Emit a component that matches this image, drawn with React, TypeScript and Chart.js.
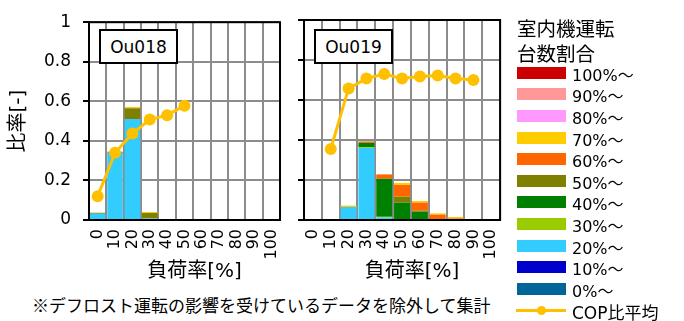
import React, { useEffect, useRef } from "react";
import { Chart, registerables } from "chart.js";
Chart.register(...registerables);

const FONT = "'DejaVu Sans', 'Noto Sans CJK JP', sans-serif";
const CJK = "'Noto Sans CJK JP', 'DejaVu Sans', sans-serif";

// load-rate categories [%]
const loadLabels = ["0", "10", "20", "30", "40", "50", "60", "70", "80", "90", "100"];

// operating indoor-unit ratio bands (top of legend first)
const bandLabels = ["100%～", "90%～", "80%～", "70%～", "60%～", "50%～", "40%～", "30%～", "20%～", "10%～", "0%～"];
const bandColors = ["#CC0000", "#FF9999", "#FF99FF", "#FFCC00", "#FF6600", "#808000", "#008000", "#99CC00", "#33CCFF", "#0000CC", "#006699"];

const none = [0, 0, 0, 0, 0, 0, 0, 0, 0, 0, 0];

// Ou018 band shares
const ou018_20 = [0.032, 0.34, 0.51, 0.008, 0, 0, 0, 0, 0, 0, 0];
const ou018_50 = [0.005, 0.005, 0.055, 0.028, 0, 0, 0, 0, 0, 0, 0];
const ou018_70 = [0, 0, 0.006, 0.005, 0, 0, 0, 0, 0, 0, 0];
const ou018_cop = [0.12, 0.34, 0.437, 0.508, 0.53, 0.578, null, null, null, null, null];

// Ou019 band shares
const ou019_20 = [0, 0, 0.065, 0.36, 0.012, 0, 0, 0, 0, 0, 0];
const ou019_30 = [0, 0, 0, 0.004, 0.004, 0, 0, 0, 0, 0, 0];
const ou019_40 = [0, 0, 0, 0.022, 0.19, 0.087, 0.042, 0.005, 0, 0, 0];
const ou019_50 = [0, 0, 0, 0, 0, 0.03, 0.004, 0, 0, 0, 0];
const ou019_60 = [0, 0, 0, 0.007, 0.022, 0.058, 0.041, 0.022, 0.008, 0, 0];
const ou019_70 = [0, 0, 0.007, 0, 0, 0.01, 0.008, 0.006, 0.007, 0.005, 0];
const ou019_cop = [null, 0.355, 0.658, 0.707, 0.73, 0.707, 0.717, 0.723, 0.707, 0.7, null];

// per-band series, same order as bandLabels (100% ... 0%)
const ou018Bands = [none, none, none, ou018_70, none, ou018_50, none, none, ou018_20, none, none];
const ou019Bands = [none, none, none, ou019_70, ou019_60, ou019_50, ou019_40, ou019_30, ou019_20, none, none];

const yTitle = "比率[-]";
const xTitle = "負荷率[%]";
const copLabel = "COP比平均";
const legendTitle = ["室内機運転", "台数割合"];
const note = "※デフロスト運転の影響を受けているデータを除外して集計";

const frame = {
  id: "frame",
  afterDatasetsDraw(chart: any) {
    const { ctx, chartArea } = chart;
    const { left, top, right, bottom } = chartArea;
    ctx.save();
    ctx.strokeStyle = "#000";
    ctx.lineWidth = 2;
    ctx.strokeRect(left, top, right - left, bottom - top);
    ctx.restore();
  },
};

function makeConfig(bands: number[][], cop: (number | null)[], showY: boolean, rightPad: number): any {
  const barSets = [];
  for (let i = bands.length - 1; i >= 0; i--) {
    barSets.push({
      type: "bar",
      label: bandLabels[i],
      data: bands[i],
      backgroundColor: bandColors[i],
      borderWidth: 0,
      barPercentage: 0.9,
      categoryPercentage: 1,
      stack: "bands",
      order: 1,
    });
  }
  return {
    type: "bar",
    data: {
      labels: loadLabels,
      datasets: [
        {
          type: "line",
          label: copLabel,
          data: cop,
          borderColor: "#FFC000",
          backgroundColor: "#FFC000",
          borderWidth: 3,
          pointRadius: 6,
          pointBorderWidth: 0,
          pointBackgroundColor: "#FFC000",
          stack: "cop",
          order: 0,
          spanGaps: false,
        },
        ...barSets,
      ],
    },
    options: {
      animation: false,
      responsive: false,
      maintainAspectRatio: false,
      events: [],
      layout: { padding: { top: 20, right: rightPad, left: 0, bottom: 0 } },
      plugins: { legend: { display: false }, tooltip: { enabled: false } },
      scales: {
        x: {
          stacked: true,
          offset: true,
          grid: { color: "#8C8C8C", lineWidth: 2, offset: true, drawTicks: false },
          border: { color: "#000", width: 2 },
          ticks: { minRotation: 90, maxRotation: 90, autoSkip: false, padding: 9, color: "#000", font: { family: FONT, size: 16 } },
          title: { display: true, text: "\u3000" + xTitle, color: "#000", font: { family: FONT, size: 20 }, padding: { top: 0, bottom: 6 } },
          afterFit: (s: any) => {
            s.height = 70;
          },
        },
        y: {
          stacked: true,
          min: 0,
          max: 1,
          ticks: {
            stepSize: 0.2,
            display: showY,
            padding: 12,
            color: "#000",
            font: { family: FONT, size: 17 },
            callback: (v: any) => String(parseFloat(Number(v).toFixed(2))),
          },
          grid: { color: "#8C8C8C", lineWidth: 2, tickColor: "#000", tickLength: 6, tickWidth: 2 },
          border: { color: "#000", width: 2 },
          title: { display: showY, text: yTitle, color: "#000", font: { family: FONT, size: 20 }, padding: { top: 7, bottom: 0 } },
          afterFit: (s: any) => {
            s.width = showY ? 89 : 14;
          },
        },
      },
    },
    plugins: [frame],
  };
}

export default function App() {
  const c1 = useRef<HTMLCanvasElement>(null);
  const c2 = useRef<HTMLCanvasElement>(null);
  useEffect(() => {
    const a = new Chart(c1.current as HTMLCanvasElement, makeConfig(ou018Bands, ou018_cop, true, 10));
    const b = new Chart(c2.current as HTMLCanvasElement, makeConfig(ou019Bands, ou019_cop, false, 13));
    return () => {
      a.destroy();
      b.destroy();
    };
  }, []);

  const boxStyle = (left: number): React.CSSProperties => ({
    position: "absolute",
    left,
    top: 29,
    width: 79,
    height: 35,
    boxSizing: "border-box",
    border: "2px solid #000",
    background: "#fff",
    font: `17px ${FONT}`,
    color: "#000",
    display: "flex",
    alignItems: "center",
    justifyContent: "center",
  });

  return (
    <div style={{ position: "absolute", left: 0, top: 0, width: 684, height: 321, background: "#fff", overflow: "hidden" }}>
      <canvas ref={c1} width={300} height={290} style={{ position: "absolute", left: 0, top: 0 }} />
      <canvas ref={c2} width={230} height={290} style={{ position: "absolute", left: 290, top: 0 }} />
      <div style={boxStyle(99)}>Ou018</div>
      <div style={boxStyle(314)}>Ou019</div>
      {legendTitle.map((t, i) => (
        <div key={t} style={{ position: "absolute", left: 517, top: 27.5 + i * 25 - 15, height: 28, lineHeight: "28px", font: `19.5px ${CJK}`, color: "#000", whiteSpace: "nowrap" }}>
          {t}
        </div>
      ))}
      {bandLabels.map((t, i) => {
        const cy = 72.7 + i * 21.6;
        return (
          <React.Fragment key={t}>
            <div style={{ position: "absolute", left: 517, top: cy - 6, width: 49, height: 12, background: bandColors[i] }} />
            <div style={{ position: "absolute", left: 572, top: cy - 11, height: 22, lineHeight: "22px", font: `16px ${FONT}`, color: "#000", whiteSpace: "nowrap" }}>{t}</div>
          </React.Fragment>
        );
      })}
      <div style={{ position: "absolute", left: 516, top: 309, width: 50, height: 3, background: "#FFC000" }} />
      <div style={{ position: "absolute", left: 536.5, top: 306, width: 9, height: 9, borderRadius: "50%", background: "#FFC000" }} />
      <div style={{ position: "absolute", left: 572, top: 299, height: 22, lineHeight: "22px", font: `17px ${FONT}`, color: "#000", whiteSpace: "nowrap" }}>{copLabel}</div>
      <div style={{ position: "absolute", left: 32, top: 292, height: 24, lineHeight: "24px", font: `17px ${CJK}`, color: "#000", whiteSpace: "nowrap" }}>{note}</div>
    </div>
  );
}
